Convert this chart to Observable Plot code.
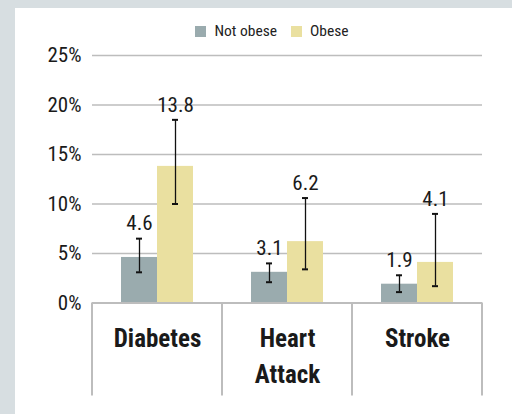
<!DOCTYPE html>
<html>
<head>
<meta charset="utf-8">
<script src="https://cdn.jsdelivr.net/npm/d3@7"></script>
<script src="https://cdn.jsdelivr.net/npm/@observablehq/plot@0.6"></script>
<style>
  html, body { margin: 0; padding: 0; }
  body { width: 512px; height: 414px; overflow: hidden; background: #d7dee1; position: relative;
         font-family: "Roboto Condensed", Roboto, sans-serif; }
  #panel { position: absolute; left: 15px; top: 8px; width: 497px; height: 406px; background: #fff; overflow: hidden; }
  #legend { position: absolute; top: 13px; left: 0; width: 497px; height: 20px; display: flex; justify-content: center; align-items: center;
            font-size: 15.5px; color: #222; padding-left: 17px; box-sizing: border-box; }
  #legend .sw { display: inline-block; width: 11px; height: 11px; margin-right: 8px; }
  #legend .item { display: flex; align-items: center; }
  #legend .item + .item { margin-left: 14px; }
  #chart { position: absolute; left: 0; top: 36px; }
</style>
</head>
<body>
<div id="panel">
  <div id="legend"></div>
  <div id="chart"></div>
</div>
<script>
const categories = ["Diabetes", "Heart Attack", "Stroke"];
const groups = ["Not obese", "Obese"];
const colors = ["#9aabae", "#eae0a0"];
const notObese = [4.6, 3.1, 1.9];
const obese = [13.8, 6.2, 4.1];
const notObeseLow = [3.1, 2.1, 1.1];
const notObeseHigh = [6.5, 4.0, 2.8];
const obeseLow = [10.0, 3.4, 1.7];
const obeseHigh = [18.5, 10.6, 9.0];
const yTicks = [0, 5, 10, 15, 20, 25];

const data = [];
categories.forEach((c, i) => {
  data.push({category: c, group: groups[0], value: notObese[i], low: notObeseLow[i], high: notObeseHigh[i]});
  data.push({category: c, group: groups[1], value: obese[i], low: obeseLow[i], high: obeseHigh[i]});
});

// legend
const legend = document.getElementById("legend");
groups.forEach((g, i) => {
  const item = document.createElement("span");
  item.className = "item";
  const sw = document.createElement("span");
  sw.className = "sw";
  sw.style.background = colors[i];
  item.appendChild(sw);
  item.appendChild(document.createTextNode(g));
  legend.appendChild(item);
});

const FONT = '"Roboto Condensed", Roboto, sans-serif';
const W = 497, H = 370;

const plot = Plot.plot({
  width: W,
  height: H,
  marginLeft: 76,
  marginRight: 30,
  marginTop: 11,
  marginBottom: 111.5,
  style: {fontFamily: FONT, fontSize: "21px", color: "#1a1a1a", background: "transparent", overflow: "visible"},
  fx: {domain: categories, paddingInner: 0, paddingOuter: 0, label: null},
  x: {domain: groups, paddingInner: 0, paddingOuter: 0.76, axis: null},
  y: {domain: [0, 25], axis: null},
  color: {domain: groups, range: colors},
  marks: [
    Plot.gridY(yTicks, {stroke: "#bdbdbd", strokeOpacity: 1, strokeWidth: 1.5}),
    Plot.axisY(yTicks, {tickSize: 0, tickPadding: 11, tickFormat: d => d + "%", fontSize: 21, anchor: "left"}),
    Plot.axisFx({anchor: "bottom", tickSize: 0, tickPadding: 18, fontSize: 25, fontWeight: "bold", lineHeight: 1.44,
                 tickFormat: d => d.replace(" ", "\n"), label: null}),
    Plot.barY(data, {fx: "category", x: "group", y: "value", fill: "group"}),
    Plot.ruleY([0], {stroke: "#bdbdbd", strokeWidth: 2}),
    Plot.ruleX(data, {fx: "category", x: "group", y1: "low", y2: "high", stroke: "#111", strokeWidth: 1.3}),
    Plot.tickY(data, {fx: "category", x: "group", y: "low", stroke: "#111", strokeWidth: 2, insetLeft: 15, insetRight: 15}),
    Plot.tickY(data, {fx: "category", x: "group", y: "high", stroke: "#111", strokeWidth: 2, insetLeft: 15, insetRight: 15}),
    Plot.text(data, {fx: "category", x: "group", y: "high", text: d => d.value.toFixed(1), dy: -15, fontSize: 21, fill: "#1a1a1a"})
  ]
});

document.getElementById("chart").appendChild(plot);

// category separator lines below the axis, positioned with the fx and y scales
const fx = plot.scale("fx");
const ys = plot.scale("y");
const svg = d3.select(plot.tagName === "svg" ? plot : plot.querySelector("svg"));
const y0 = ys.apply(0);
const edges = categories.map(c => fx.apply(c));
edges.push(fx.apply(categories[categories.length - 1]) + fx.bandwidth);
svg.append("g")
  .attr("stroke", "#bdbdbd")
  .attr("stroke-width", 2)
  .selectAll("line")
  .data(edges)
  .join("line")
  .attr("x1", d => d).attr("x2", d => d)
  .attr("y1", y0).attr("y2", y0 + 93);
</script>
</body>
</html>
